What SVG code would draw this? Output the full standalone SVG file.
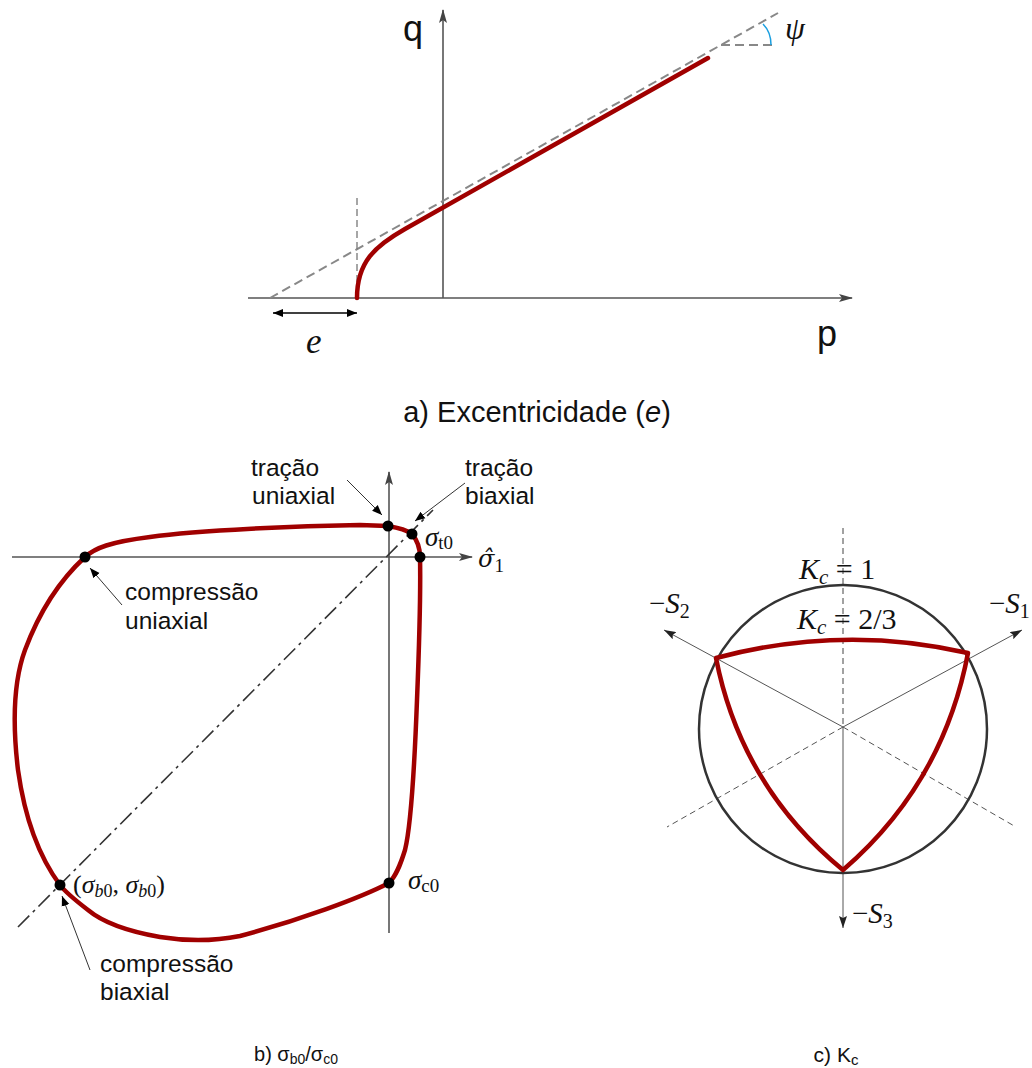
<svg xmlns="http://www.w3.org/2000/svg" width="1032" height="1068" viewBox="0 0 1032 1068">
<defs>
<style>
.sans{font-family:"Liberation Sans",Arial,sans-serif;fill:#111}
.ser{font-family:"Liberation Serif","Times New Roman",serif;fill:#111}
.it{font-style:italic}
.ax{stroke:#555;stroke-width:1.6;fill:none}
.thin{stroke:#333;stroke-width:1;fill:none}
.red{stroke:#a00000;stroke-width:4.5;fill:none;stroke-linejoin:round;stroke-linecap:round}
.gdash{stroke:#888;stroke-width:2;stroke-dasharray:9,5;fill:none}
.dot{fill:#000}
</style>
<marker id="axa" viewBox="0 0 14 8" refX="13" refY="4" markerWidth="14" markerHeight="8" markerUnits="userSpaceOnUse" orient="auto"><path d="M0,0 L14,4 L0,8 L3,4 z" fill="#444"/></marker>
<marker id="ah" viewBox="0 0 10 10" refX="10" refY="5" markerWidth="10" markerHeight="10" markerUnits="userSpaceOnUse" orient="auto-start-reverse"><path d="M0,1 L10,5 L0,9 z" fill="#000"/></marker>
<marker id="ahs" viewBox="0 0 12 8" refX="12" refY="4" markerWidth="12" markerHeight="8" markerUnits="userSpaceOnUse" orient="auto"><path d="M0,0 L12,4 L0,8 L2,4 z" fill="#222"/></marker>
</defs>
<rect width="1032" height="1068" fill="#fff"/>

<!-- Panel a -->
<g id="panel-a">
<g id="a-axes">
<line x1="248" y1="298" x2="852" y2="298" class="ax" marker-end="url(#axa)"/>
<line x1="443" y1="298" x2="443" y2="10" class="ax" marker-end="url(#axa)"/>
</g>
<g id="a-connectors">
<line x1="270" y1="298" x2="778" y2="13" class="gdash"/>
<line x1="721" y1="45" x2="772" y2="45" class="gdash"/>
<line x1="357" y1="198" x2="357" y2="298" stroke="#777" stroke-width="1.3" stroke-dasharray="7,4"/>
<path d="M763,24 Q771,32 771,45" fill="none" stroke="#1a9fe0" stroke-width="1.5"/>
<path d="M357,298 C357,262 375,246 405,229 L708,58" class="red"/>
<line x1="273" y1="313" x2="357" y2="313" stroke="#000" stroke-width="1.5" marker-start="url(#ah)" marker-end="url(#ah)"/>
</g>
<text x="403" y="41" class="sans" font-size="36">q</text>
<text x="817" y="346" class="sans" font-size="36">p</text>
<text x="785" y="39" class="ser it" font-size="32">ψ</text>
<text x="306" y="353" class="ser it" font-size="35">e</text>
<text x="537" y="422" class="sans" font-size="29" text-anchor="middle">a) Excentricidade (<tspan font-style="italic">e</tspan>)</text>
</g>

<!-- Panel b -->
<g id="panel-b">
<g id="b-axes">
<line x1="12" y1="557" x2="472" y2="557" class="ax" stroke-width="1.3" marker-end="url(#axa)"/>
<line x1="389" y1="933" x2="389" y2="472" class="ax" stroke-width="1.3" marker-end="url(#axa)"/>
<line x1="18" y1="927" x2="433" y2="510" stroke="#333" stroke-width="1.6" stroke-dasharray="16,5,3,5"/>
</g>
<path id="b-curve" d="M85,557 C95,548 110,542 150,537 C200,530 300,526 360,525 L388,526 C400,528 408,531 412,534 C417,540 420,548 420,557 C421,600 419,650 417,700 C414,780 410,830 405,850 C400,866 396,876 389,883 C360,898 300,920 240,936 C215,941 185,941 160,937 C120,930 100,920 88,910 C75,900 66,893 60,885 C40,858 25,820 18,770 C12,720 14,680 25,650 C40,610 60,580 85,557 Z" class="red"/>
<g id="b-points">
<circle cx="85" cy="557" r="5.5" class="dot"/>
<circle cx="388" cy="526" r="5.5" class="dot"/>
<circle cx="412" cy="534" r="5.5" class="dot"/>
<circle cx="420" cy="557" r="5.5" class="dot"/>
<circle cx="389" cy="883" r="5.5" class="dot"/>
<circle cx="60" cy="885" r="5.5" class="dot"/>
</g>
<g id="b-connectors">
<line x1="347" y1="480" x2="382" y2="515" class="thin" marker-end="url(#ah)"/>
<line x1="465" y1="483" x2="415" y2="521" class="thin" marker-end="url(#ah)"/>
<line x1="122" y1="605" x2="90" y2="568" class="thin" marker-end="url(#ah)"/>
<line x1="90" y1="970" x2="62" y2="896" class="thin" marker-end="url(#ah)"/>
</g>
<g id="b-labels">
<text class="sans" font-size="24.5"><tspan x="251" y="476">tração</tspan><tspan x="252" y="504">uniaxial</tspan></text>
<text class="sans" font-size="24.5"><tspan x="465" y="476">tração</tspan><tspan x="465" y="504">biaxial</tspan></text>
<text class="sans" font-size="24.5"><tspan x="125" y="600">compressão</tspan><tspan x="125" y="629">uniaxial</tspan></text>
<text class="sans" font-size="24.5"><tspan x="100" y="972">compressão</tspan><tspan x="100" y="1000">biaxial</tspan></text>
<text x="425" y="546" class="ser" font-size="27"><tspan font-style="italic">σ</tspan><tspan font-size="19" dy="3">t0</tspan></text>
<text x="478" y="567" font-family="'DejaVu Serif',serif" fill="#111" font-size="24"><tspan font-style="italic">σ̂</tspan><tspan font-family="'Liberation Serif',serif" font-size="19" dy="5">1</tspan></text>
<text x="408" y="889" class="ser" font-size="27"><tspan font-style="italic">σ</tspan><tspan font-size="19" dy="3">c0</tspan></text>
<text x="73" y="893" class="ser" font-size="26">(<tspan font-style="italic">σ</tspan><tspan font-size="18" dy="4"><tspan font-style="italic">b</tspan>0</tspan><tspan dy="-4">, </tspan><tspan font-style="italic">σ</tspan><tspan font-size="18" dy="4"><tspan font-style="italic">b</tspan>0</tspan><tspan dy="-4">)</tspan></text>
<text x="296" y="1061" class="sans" font-size="20" text-anchor="middle">b) σ<tspan font-size="14" dy="3">b0</tspan><tspan dy="-3">/σ</tspan><tspan font-size="14" dy="3">c0</tspan></text>
</g>
</g>

<!-- Panel c -->
<g id="panel-c">
<g id="c-lines">
<line x1="843" y1="528" x2="843" y2="727" stroke="#444" stroke-width="1" stroke-dasharray="6,4"/>
<line x1="843" y1="727" x2="843" y2="928" stroke="#555" stroke-width="1" marker-end="url(#ahs)"/>
<line x1="843" y1="727" x2="1022" y2="630" stroke="#555" stroke-width="1" marker-end="url(#ahs)"/>
<line x1="843" y1="727" x2="664" y2="630" stroke="#555" stroke-width="1" marker-end="url(#ahs)"/>
<line x1="843" y1="727" x2="667" y2="827" stroke="#555" stroke-width="1" stroke-dasharray="6,4"/>
<line x1="843" y1="727" x2="1016" y2="827" stroke="#555" stroke-width="1" stroke-dasharray="6,4"/>
</g>
<circle id="c-circle" cx="843" cy="729" r="144" fill="none" stroke="#333" stroke-width="2.5"/>
<path id="c-curve" d="M716,658 Q843,624 968,653 Q943,784 843,870 Q741,786 716,658 Z" class="red" stroke-width="5"/>
<g id="c-labels">
<text x="799" y="579" class="ser" font-size="30"><tspan font-style="italic">K</tspan><tspan font-style="italic" font-size="21" dy="5">c</tspan><tspan dy="-5"> = 1</tspan></text>
<text x="797" y="629" class="ser" font-size="30"><tspan font-style="italic">K</tspan><tspan font-style="italic" font-size="21" dy="5">c</tspan><tspan dy="-5"> = 2/3</tspan></text>
<text x="649" y="613" class="ser" font-size="29">−<tspan font-style="italic">S</tspan><tspan font-size="20" dy="5">2</tspan></text>
<text x="989" y="613" class="ser" font-size="29">−<tspan font-style="italic">S</tspan><tspan font-size="20" dy="5">1</tspan></text>
<text x="852" y="923" class="ser" font-size="29">−<tspan font-style="italic">S</tspan><tspan font-size="20" dy="5">3</tspan></text>
<text x="836" y="1062" class="sans" font-size="21" text-anchor="middle">c) K<tspan font-size="15" dy="3">c</tspan></text>
</g>
</g>
</svg>
